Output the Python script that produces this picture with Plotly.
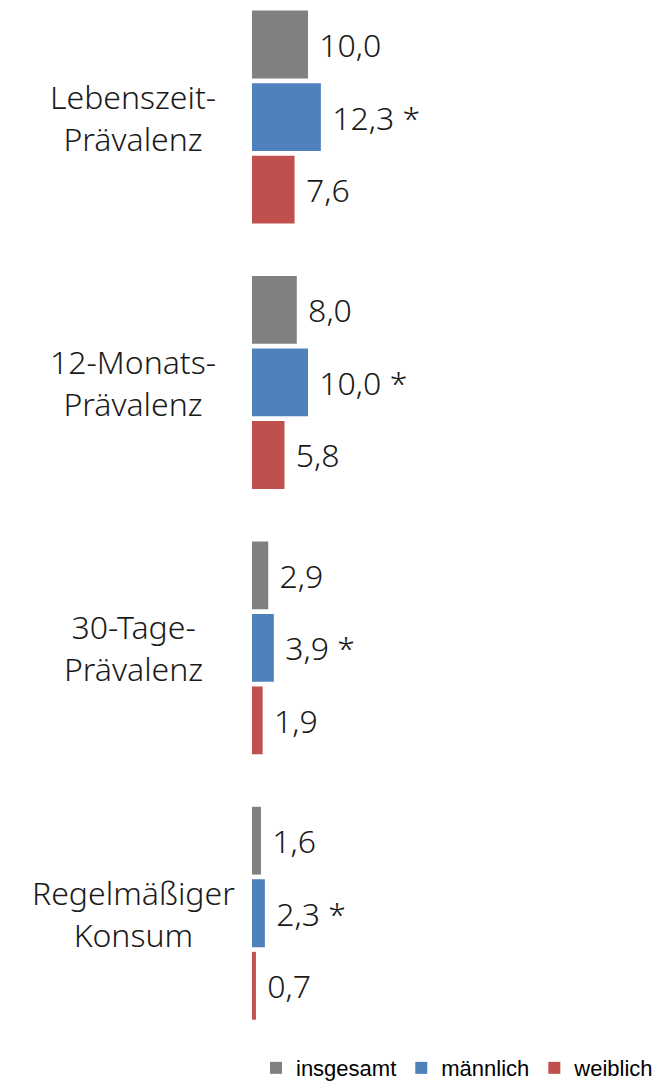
import plotly.graph_objects as go

categories = ["Lebenszeit-Prävalenz", "12-Monats-Prävalenz", "30-Tage-Prävalenz", "Regelmäßiger Konsum"]
category_labels = ["Lebenszeit-<br>Prävalenz", "12-Monats-<br>Prävalenz", "30-Tage-<br>Prävalenz", "Regelmäßiger<br>Konsum"]
series_names = ["insgesamt", "männlich", "weiblich"]
insgesamt = [10.0, 8.0, 2.9, 1.6]
maennlich = [12.3, 10.0, 3.9, 2.3]
weiblich = [7.6, 5.8, 1.9, 0.7]
significance = ["", " *", ""]
colors = ["#808080", "#4F81BD", "#C0504D"]

LABEL_FONT = "Noto Sans, Open Sans, DejaVu Sans, sans-serif"

def fmt(v):
    return f"{v:.1f}".replace(".", ",")

fig = go.Figure()
for name, vals, col, sig in zip(series_names, [insgesamt, maennlich, weiblich], colors, significance):
    fig.add_trace(go.Bar(
        name=name, x=vals, y=categories, orientation="h",
        marker=dict(color=col, line=dict(width=0)),
        text=["\u00a0" + fmt(v) + sig for v in vals],
        textposition="outside", constraintext="none", cliponaxis=False,
        textfont=dict(family=LABEL_FONT, size=32, color="#1a1a1a", weight=300),
        hoverinfo="skip",
    ))

for cat, lab in zip(categories, category_labels):
    fig.add_annotation(
        x=-0.292, xref="paper", y=cat, yref="y", text=lab, showarrow=False,
        xanchor="center", yanchor="middle", align="center",
        font=dict(family=LABEL_FONT, size=32, color="#1a1a1a", weight=300),
    )

fig.update_layout(
    width=659, height=1082,
    margin=dict(l=252, r=0, t=0, b=52, autoexpand=False),
    paper_bgcolor="white", plot_bgcolor="white",
    barmode="group", bargap=0.18, bargroupgap=0.065,
    showlegend=True,
    legend=dict(orientation="h", xref="paper", yref="container",
                x=1.0, xanchor="right", y=0.0129, yanchor="middle",
                font=dict(family="Liberation Sans, Arial, sans-serif", size=22, color="#000000"),
                itemwidth=30, traceorder="normal"),
    xaxis=dict(range=[0, 72.7], visible=False, showgrid=False, zeroline=False),
    yaxis=dict(range=[3.44, -0.441], showticklabels=False, showgrid=False, zeroline=False,
               showline=False, ticks=""),
)

fig.write_html("out.html", config={"displayModeBar": False},
               post_script="document.body.style.margin='0px';")
